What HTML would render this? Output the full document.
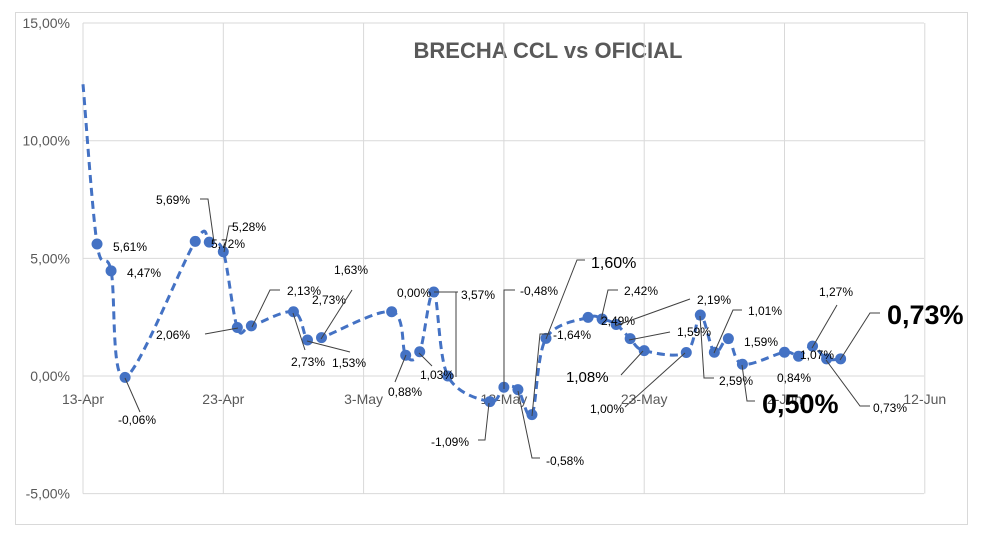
<!DOCTYPE html>
<html><head><meta charset="utf-8"><style>
body{margin:0;background:#fff;}
svg{display:block;font-family:"Liberation Sans",sans-serif;}
</style></head><body>
<svg id="chart" width="981" height="539" viewBox="0 0 981 539">
<rect x="15.5" y="12.5" width="952" height="512" fill="#fff" stroke="#d9d9d9"/>
<text x="548" y="58" text-anchor="middle" font-size="22" font-weight="bold" fill="#595959">BRECHA CCL vs OFICIAL</text>
<g id="grid"></g><g id="series"></g><g id="labels"></g>
</svg>
<script>
const yTicks=[15,10,5,0,-5];
const yTickLabels=["15,00%","10,00%","5,00%","0,00%","-5,00%"];
const xTickDays=[0,10,20,30,40,50,60];
const xTickLabels=["13-Apr","23-Apr","3-May","13-May","23-May","2-Jun","12-Jun"];
const days=[0,1,2,3,8,9,10,11,12,15,16,17,22,23,24,25,26,29,30,31,32,33,36,37,38,39,40,43,44,45,46,47,50,51,52,53,54];
const values=[12.4,5.61,4.47,-0.06,5.72,5.69,5.28,2.06,2.13,2.73,1.53,1.63,2.73,0.88,1.03,3.57,0.00,-1.09,-0.48,-0.58,-1.64,1.60,2.49,2.42,2.19,1.59,1.08,1.00,2.59,1.01,1.59,0.50,1.01,0.84,1.27,0.73,0.73];
const labelTexts=["5,61%","4,47%","-0,06%","5,69%","5,72%","5,28%","2,06%","2,13%","2,73%","1,63%","2,73%","1,53%","0,88%","1,03%","0,00%","3,57%","-0,48%","-1,09%","-0,58%","1,60%","-1,64%","2,42%","2,49%","2,19%","1,59%","1,08%","1,00%","2,59%","1,01%","1,59%","0,50%","0,84%","1,27%","1,07%","0,73%","0,73%"];
// layout (positions of label boxes and leaders), not data
const L=[[113,251,11,0],[127,277,11,0],[118,424,11,0,[[125,378],[140,412]]],[156,204,11,0,[[200,199],[208,199],[214,242]]],[211,248,11,0],[232,231,11,0,[[224,252],[229,226],[234,226]]],[156,339,11,0,[[205,334],[238,328]]],[287,295,11,0,[[252,327],[270,290],[280,290]]],[312,304,11,0],[334,274,11,0,[[321,339],[352,290]]],[291,366,11,0,[[293,313],[305,350]]],[332,367,11,0,[[307,341],[350,352]]],[388,396,11,0,[[406,355],[395,382]]],[420,379,11,0,[[419,353],[432,366]]],[397,297,11,0],[461,299,11,0,[[434,292],[458,292]],[[456,292],[456,377]]],[520,295,11,0,[[504,389],[504,290],[515,290]]],[431,446,11,0,[[489,403],[485,440],[478,440]]],[546,465,11,0,[[518,391],[532,458],[540,458]]],[591,268,15,0,[[546,339],[577,260],[585,260]]],[553,339,11,0,[[532,416],[540,334],[550,334]]],[624,295,11,0,[[601,320],[608,290],[618,290]]],[601,325,11,0],[697,304,11,0,[[615,326],[690,299]]],[677,336,11,0,[[629,340],[670,332]]],[566,382,14,0,[[621,375],[643,351]]],[590,413,11,0,[[625,407],[685,353]]],[719,385,11,0,[[700,316],[704,378],[714,378]]],[748,315,11,0,[[714,353],[733,310],[742,310]]],[744,346,11,0],[762,413,26,1,[[742,365],[747,401],[755,401]]],[777,382,11,0],[819,296,11,0,[[812,348],[837,305]]],[800,359,11,0],[873,412,11,0,[[826,360],[860,406],[870,406]]],[887,324,26,1,[[840,360],[870,313],[880,313]]]];
const NS="http://www.w3.org/2000/svg";
const X0=83,DX=14.03,Y0=376,DY=23.53;
function xs(d){return X0+d*DX;}
function ys(v){return Y0-v*DY;}
function mk(t,a,p){const e=document.createElementNS(NS,t);for(const k in a)e.setAttribute(k,a[k]);p.appendChild(e);return e;}
const grid=document.getElementById('grid'),ser=document.getElementById('series'),lab=document.getElementById('labels');
yTicks.forEach((v,i)=>{
 const l=mk('line',{x1:X0,x2:924,y1:ys(v),y2:ys(v),stroke:'#d9d9d9','stroke-width':1},grid);
 
 
 const t=mk('text',{x:70,y:ys(v)+5,'text-anchor':'end','font-size':14,fill:'#595959'},grid);
 t.textContent=yTickLabels[i];
 
 
});
xTickDays.forEach((d,i)=>{
 const l=mk('line',{x1:xs(d),x2:xs(d),y1:ys(15),y2:ys(-5),stroke:'#d9d9d9','stroke-width':1},grid);
 
 
 const t=mk('text',{x:xs(d),y:404,'text-anchor':'middle','font-size':14,fill:'#595959'},grid);
 t.textContent=xTickLabels[i];
 
 
});
const P=days.map((d,i)=>[xs(d),ys(values[i])]);
let dstr='M'+P[0][0]+','+P[0][1];
for(let i=0;i<P.length-1;i++){
 const p0=P[Math.max(0,i-1)],p1=P[i],p2=P[i+1],p3=P[Math.min(P.length-1,i+2)];
 const c1=[p1[0]+(p2[0]-p0[0])/6,p1[1]+(p2[1]-p0[1])/6],c2=[p2[0]-(p3[0]-p1[0])/6,p2[1]-(p3[1]-p1[1])/6];
 dstr+=` C${c1[0]},${c1[1]} ${c2[0]},${c2[1]} ${p2[0]},${p2[1]}`;
}
const path=mk('path',{d:dstr,fill:'none',stroke:'#4472C4','stroke-width':3,'stroke-dasharray':'8,5'},ser);


P.forEach((p,i)=>{
 if(i===0)return;
 const c=mk('circle',{cx:p[0],cy:p[1],r:5.5,fill:'#4472C4'},ser);
 
 
});
L.forEach((o,i)=>{
 for(let k=4;k<o.length;k++){
  const pl=mk('polyline',{points:o[k].map(q=>q.join(',')).join(' '),fill:'none',stroke:'#404040','stroke-width':1},lab);
  
  
 }
 const t=mk('text',{x:o[0],y:o[1],'font-size':o[2]+1,'font-weight':o[3]?'bold':'normal',fill:'#000'},lab);
 t.textContent=labelTexts[i];
 
 
});
</script>
</body></html>
